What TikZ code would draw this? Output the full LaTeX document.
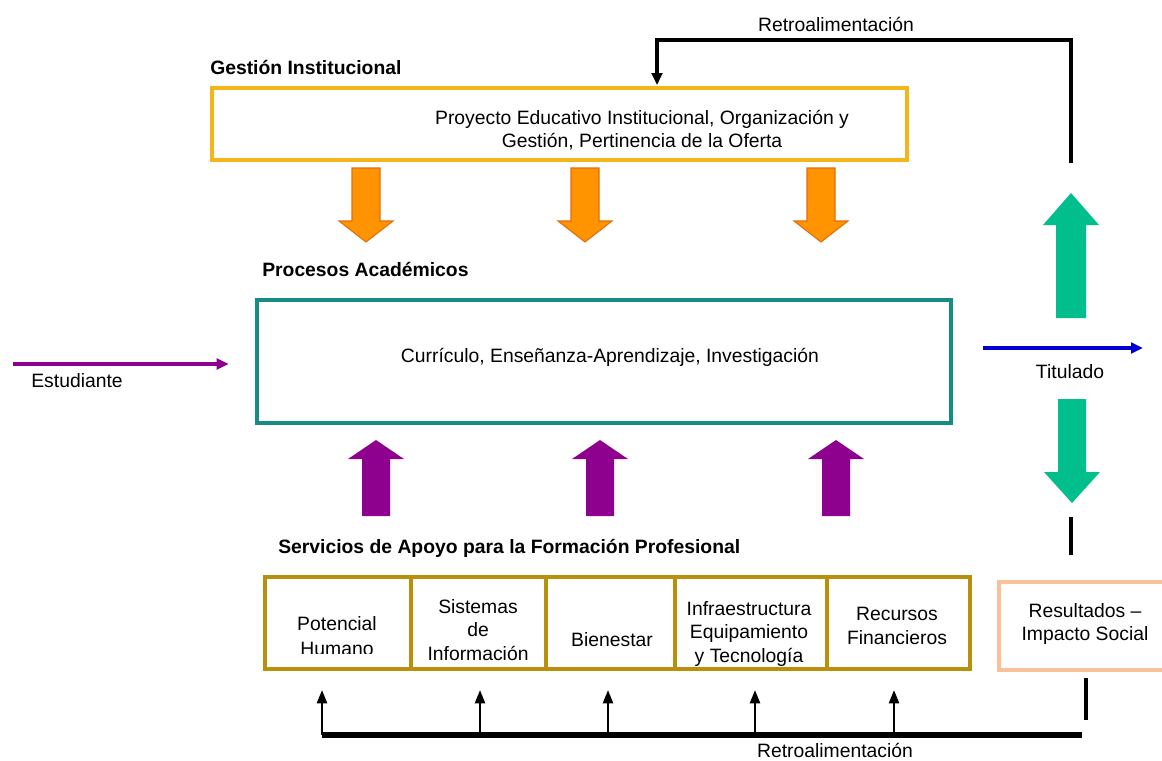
\documentclass[tikz,border=0pt]{standalone}
\usepackage{fontspec}
\setmainfont{Liberation Sans}
\usetikzlibrary{arrows.meta,fit}
\definecolor{gestyellow}{HTML}{F4B41A}
\definecolor{procteal}{HTML}{168C84}
\definecolor{servgold}{HTML}{B8900C}
\definecolor{respeach}{HTML}{FAC09A}
\definecolor{orfill}{HTML}{FF9300}
\definecolor{ordraw}{HTML}{E46C0A}
\definecolor{purp}{HTML}{8E008E}
\definecolor{grn}{HTML}{00BF8C}
\definecolor{blu}{HTML}{0000D0}
\tikzset{
    lab/.style={
        font=\fontsize{14.5}{17.5}\selectfont, align=center, inner sep=0pt
    },
    head/.style={
        font=\fontsize{14.5}{17.5}\selectfont\bfseries, anchor=west, inner sep=0pt
    },
    frame/.style={draw, line width=2.4pt, inner sep=0pt},
    fbline/.style={line width=2.4pt, -{Triangle[length=9pt,width=8pt]}},
    smallup/.style={line width=1.8pt, -{Triangle[length=10pt,width=7.5pt]}}
}

\begin{document}
\begin{tikzpicture}[x=0.75pt,y=-0.75pt,line join=miter]

\useasboundingbox (0,0) rectangle (1162,760);

% headings
\node[head] (gesthead) at (210,68) {Gestión Institucional};
\node[head] (prochead) at (262,269) {Procesos Académicos};
\node[head] (servhead) at (278,548) {Servicios de Apoyo para la Formación Profesional};

% main boxes
\node[frame, gestyellow, fit={(212,88) (907,160)}] (gest) {};
\node[lab] (gesttxt) at (642,130) {Proyecto Educativo Institucional, Organización y\\Gestión, Pertinencia de la Oferta};

\node[frame, procteal, fit={(257,300) (951,423)}] (proc) {};
\node[lab] (proctxt) at (610,357) {Currículo, Enseñanza-Aprendizaje, Investigación};

% support services boxes
\foreach \l/\r/\nm in {265/411/pot,411/546/sis,546/675/bien,675/827/infra,827/970/recur} {
  \node[frame, servgold, line width=3pt, fit={(\l,577) (\r,669)}] (\nm) {};
}
\begin{scope}
  \clip (267,579) rectangle (409,653.5);
  \node[lab, font=\fontsize{14.5}{19}\selectfont] (pottxt) at (337,636) {Potencial\\Humano};
\end{scope}
\node[lab] (sistxt) at (478,630) {Sistemas\\de\\Información};
\node[lab] (bientxt) at (612,640) {Bienestar};
\node[lab] (infratxt) at (749,634) {Infraestructura\\Equipamiento\\y Tecnología};
\node[lab] (recurtxt) at (897,626) {Recursos\\Financieros};

% results box, running off the right edge
\node[frame, respeach, fit={(999,582) (1173,670)}] (res) {};
\node[lab] (restxt) at (1085,624) {Resultados –\\Impacto Social};

% orange arrows down from the institutional management
\foreach \x in {366,585,821} {
  \filldraw[fill=orfill, draw=ordraw, line width=0.8pt]
    ({\x-14},168) -- ({\x+14},168) -- ({\x+14},221) -- ({\x+27},221)
    -- (\x,242) -- ({\x-27},221) -- ({\x-14},221) -- cycle;
}

% purple arrows up from the support services
\foreach \x in {376,600,836} {
  \fill[purp]
    ({\x-14},516) -- ({\x+14},516) -- ({\x+14},459) -- ({\x+28},459)
    -- (\x,440) -- ({\x-28},459) -- ({\x-14},459) -- cycle;
}

% green arrows
\fill[grn] (1056,318) -- (1086,318) -- (1086,225) -- (1099,225)
  -- (1071,193) -- (1043,225) -- (1056,225) -- cycle;
\fill[grn] (1058,399) -- (1086,399) -- (1086,472) -- (1100,472)
  -- (1072,503) -- (1044,472) -- (1058,472) -- cycle;

% student in, graduate out
\coordinate (estin) at (13,364);
\draw[purp, line width=3pt, -{Triangle[length=9pt,width=8pt]}, shorten >=20pt]
  (estin) -- (estin -| proc.west);
\node[lab] (est) at (77,381) {Estudiante};

\coordinate (titout) at (1143,348);
\draw[blu, line width=2.4pt, -{Triangle[length=9pt,width=8pt]}, shorten <=23pt]
  (titout -| proc.east) -- (titout);
\node[lab] (tit) at (1070,372) {Titulado};

% feedback to the institutional management
\coordinate (fbstart) at (1071,163);
\coordinate (fbcorner) at (657,40);
\draw[fbline, shorten >=1pt] (fbstart) |- (fbcorner) -- (fbcorner |- gest.north);
\node[lab] (retrotop) at (836,24) {Retroalimentación};

% feedback to the support services
\draw[line width=2.4pt] (1071,517) -- (1071,555);
\coordinate (resdown) at (1086,720);
\draw[line width=2.4pt, shorten <=5pt] (res.south) -- (resdown);
\coordinate (fbleft) at (322,735);
\coordinate (fbright) at (1082,735);
\draw[line width=3.8pt] (fbleft) -- (fbright);
\foreach \x in {322,480,608,755,894} {
  \draw[smallup] (\x,735) -- (\x,690);
}
\node[lab] (retrobot) at (835,750) {Retroalimentación};

\end{tikzpicture}
\end{document}
